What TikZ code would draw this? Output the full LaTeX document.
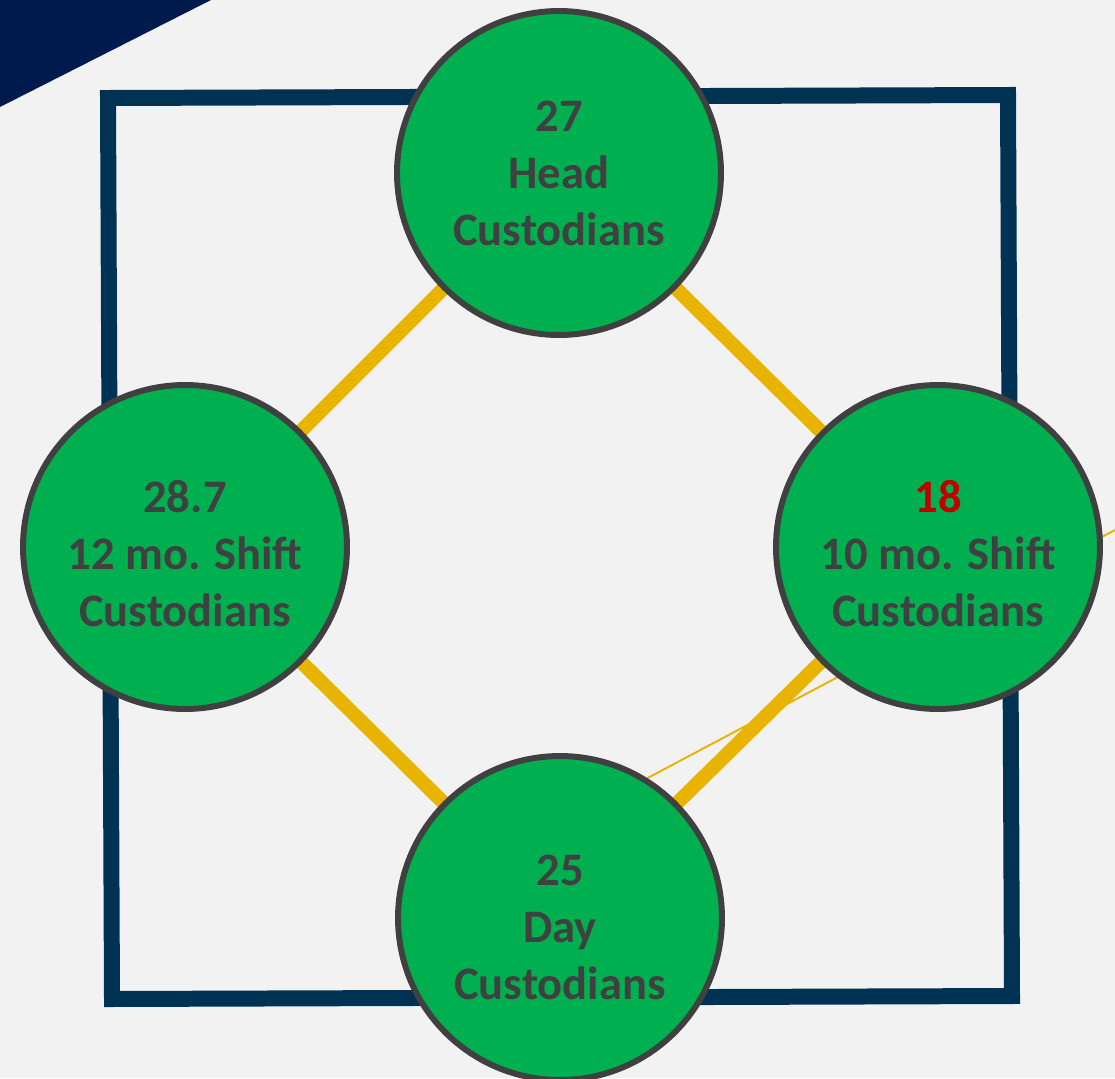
\documentclass[tikz,border=0pt]{standalone}
\usepackage{fontspec}
\setmainfont{Carlito}
\definecolor{paper}{HTML}{F2F2F2}
\definecolor{navy}{HTML}{001A4D}
\definecolor{frameblue}{HTML}{003353}
\definecolor{gold}{HTML}{E8B400}
\definecolor{crewgreen}{HTML}{00B050}
\definecolor{ringgray}{HTML}{404040}
\definecolor{numred}{HTML}{C00000}
\pgfdeclarelayer{back}
\pgfsetlayers{back,main}
% taller first line pushes the text block down in its circle
\newcommand{\droptext}[1]{\rule{0pt}{#1}}

\tikzset{
  crew/.style={circle, draw=ringgray, line width=3.4pt, fill=crewgreen,
    minimum size=6.48cm, inner sep=0pt, align=center, text=ringgray,
    font=\fontsize{26.5}{32.4}\selectfont\bfseries},
  link/.style={draw=gold, line width=8pt},
}

\begin{document}
\begin{tikzpicture}[x=0.02cm, y=-0.02cm]
\useasboundingbox (0,0) rectangle (1115,1078);

\node [crew] (head)  at (559,173) {27\\Head\\Custodians};
\node [crew] (twelve) at (185,547) {\droptext{26pt}28.7\\12 mo. Shift\\Custodians};
\node [crew] (ten)   at (938,547) {\droptext{26pt}{\color{numred}18}\\10 mo. Shift\\Custodians};
\node [crew] (day)   at (560,918) {\droptext{28.5pt}25\\Day\\Custodians};
\coordinate (spur) at (1130,522);

\begin{pgfonlayer}{back}
\fill [paper] (0,0) rectangle (1115,1078);
\fill [navy] (0,0) -- (211,0) -- (0,107) -- cycle;
% frame
\draw [draw=frameblue, line width=9.1pt] (108,98) -- (1008,95) -- (1012,996) -- (112,999) -- cycle;

\draw [link] (head.center) -- (twelve.center);
\draw [link] (head.center) -- (ten.center);
\draw [link] (twelve.center) -- (day.center);
\draw [link] (day.center) -- (ten.center);
\draw [draw=gold, line width=1.1pt] (day.58) -- (spur);
\end{pgfonlayer}

\end{tikzpicture}
\end{document}
